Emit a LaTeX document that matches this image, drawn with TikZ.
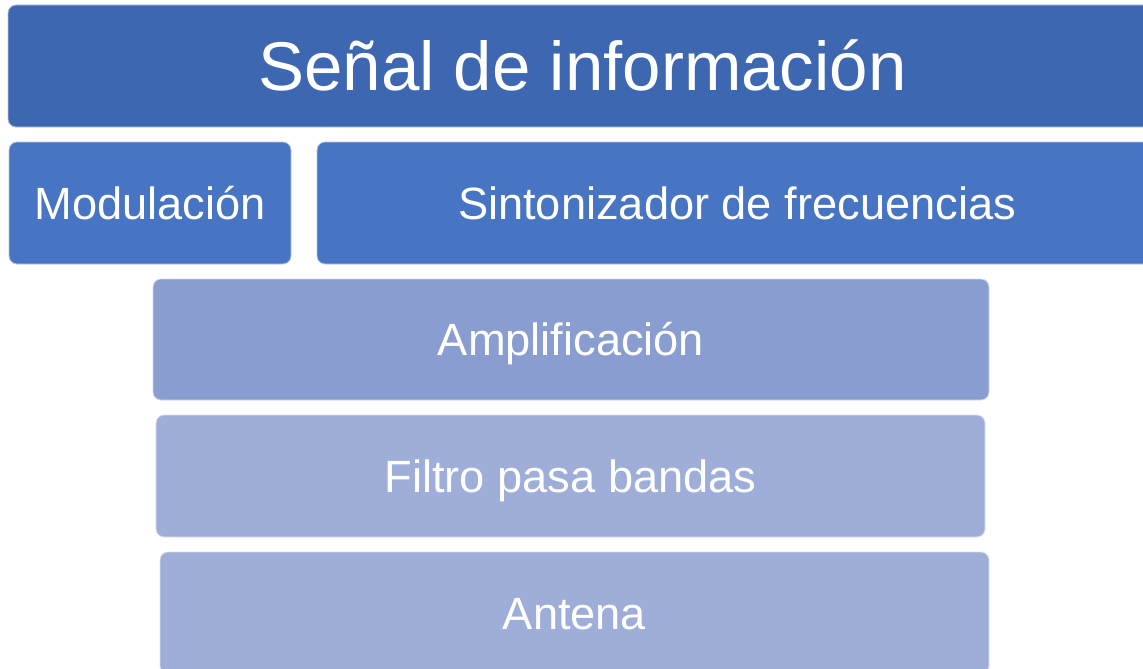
\documentclass[tikz,border=0pt]{standalone}
\usepackage{fontspec}
\setmainfont{Liberation Sans}
\begin{document}
\begin{tikzpicture}[x=1pt,y=-1pt,
  blk/.style={rectangle, rounded corners=8pt, draw=white!60!#1, line width=0.8pt, fill=#1,
    text=white, inner sep=0pt, text depth=0pt, align=center},
  big/.style={font=\fontsize{69}{80}\selectfont, text height=49.4pt},
  mid/.style={font=\fontsize{45.2}{52}\selectfont, text height=32.4pt}]
\definecolor{cTop}{HTML}{3E67B1}
\definecolor{cRow}{HTML}{4775C3}
\definecolor{cAmp}{HTML}{8A9DD1}
\definecolor{cLow}{HTML}{9FAED8}
\useasboundingbox (0,0) rectangle (1143,669);
\clip (0,0) rectangle (1143,669);
\node[blk=cTop, big, minimum width=1149pt, minimum height=122pt] (senal) at (582.5,66) {Señal de información};
\node[blk=cRow, mid, minimum width=282pt, minimum height=122pt] (mod) at (150,203) {Modulación};
\node[blk=cRow, mid, minimum width=840pt, minimum height=122pt] (sint) at (737,203) {Sintonizador de frecuencias};
\node[blk=cAmp, mid, minimum width=836pt, minimum height=121pt] (amp) at (571,339.5) {Amplificación};
\node[blk=cLow, mid, minimum width=829pt, minimum height=122pt] (filt) at (570.5,476) {Filtro pasa bandas};
\node[blk=cLow, mid, minimum width=829pt, minimum height=122pt] (ant) at (574.5,613) {Antena};
\end{tikzpicture}
\end{document}
